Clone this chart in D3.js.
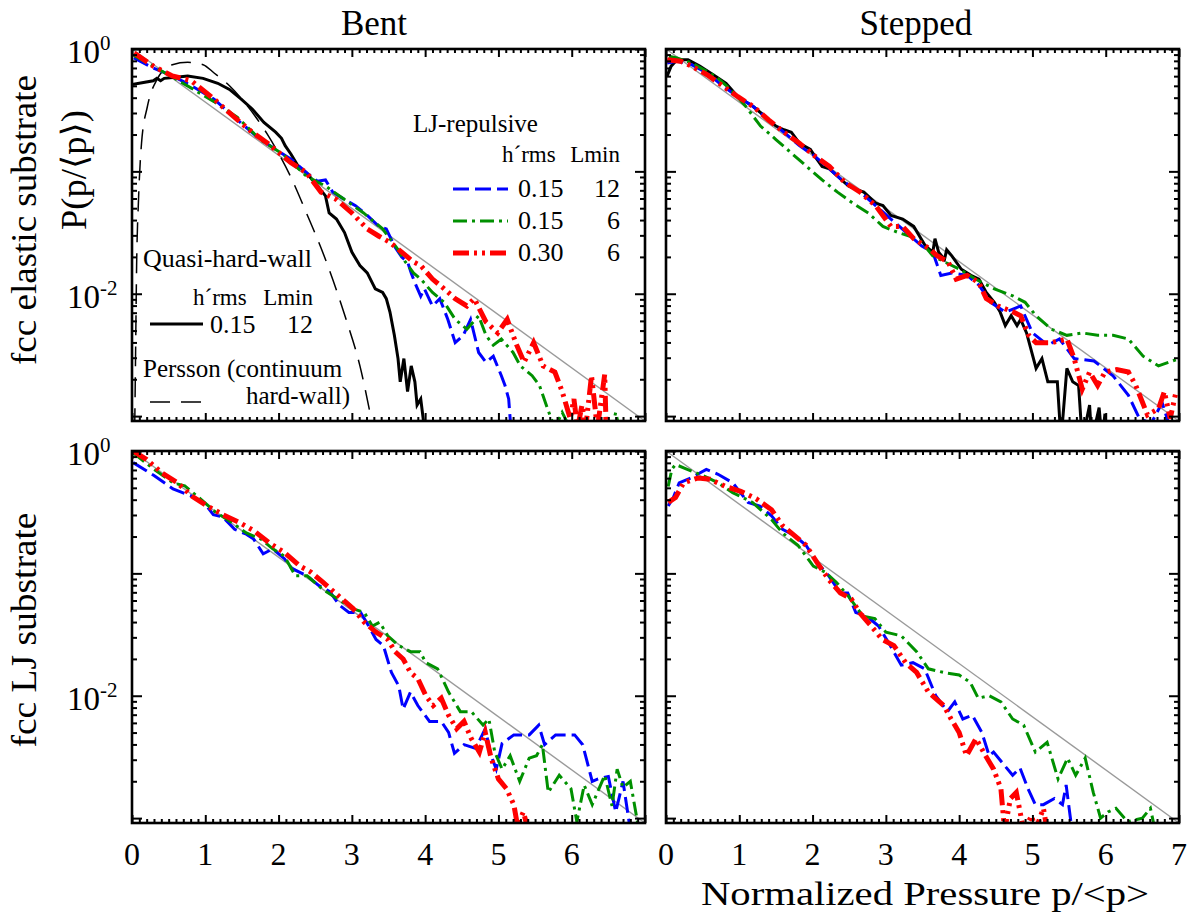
<!DOCTYPE html>
<html>
<head>
<meta charset="utf-8">
<script src="https://cdn.jsdelivr.net/npm/d3@7"></script>
<style>
body { margin: 0; background: #fff; }
svg text { font-family: "Liberation Serif", "Times New Roman", "DejaVu Serif", serif; fill: #000; }
</style>
</head>
<body>
<div class="chart"></div>
<script>
// ---- data (p = p/<p>, values are log10 P) ----

// reference line P = exp(-p)
var refP = [0, 7];
var refLog = [0, -3.04];

// Bent, fcc elastic substrate
var beBlackP = [0,0.29,0.34,0.39,0.44,0.60,0.76,0.97,1.17,1.33,1.49,1.64,1.80,1.96,2.04,2.09,2.17,2.27,2.38,2.53,2.64,2.69,2.79,2.90,3.00,3.11,3.21,3.32,3.42,3.47,3.52,3.58,3.63,3.66,3.71,3.76,3.81,3.86,3.89,3.94,3.99];
var beBlackLog = [-0.29,-0.26,-0.24,-0.26,-0.24,-0.23,-0.22,-0.24,-0.28,-0.33,-0.41,-0.49,-0.60,-0.68,-0.73,-0.79,-0.86,-0.96,-1.01,-1.12,-1.20,-1.34,-1.39,-1.50,-1.66,-1.77,-1.83,-1.96,-1.99,-2.04,-2.15,-2.34,-2.53,-2.72,-2.53,-2.80,-2.59,-2.72,-2.91,-2.86,-3.10];
var perssonP = [0.037,0.047,0.063,0.089,0.13,0.21,0.34,0.55,0.76,0.97,1.12,1.33,1.54,1.85,2.17,2.38,2.64,2.90,3.11,3.29];
var perssonLog = [-3.10,-2.59,-1.77,-1.23,-0.77,-0.47,-0.25,-0.128,-0.109,-0.128,-0.196,-0.30,-0.44,-0.70,-1.05,-1.34,-1.72,-2.17,-2.59,-3.10];
var beBlueP = [0.026,0.29,0.55,0.81,1.12,1.44,1.75,1.96,2.17,2.38,2.53,2.64,2.74,2.90,3.05,3.21,3.37,3.47,3.58,3.68,3.76,3.81,3.86,3.94,3.99,4.10,4.20,4.31,4.41,4.52,4.62,4.73,4.83,4.93,5.04,5.09,5.14,5.17];
var beBlueLog = [-0.073,-0.155,-0.22,-0.30,-0.41,-0.58,-0.74,-0.82,-0.90,-1.01,-1.08,-1.07,-1.17,-1.23,-1.28,-1.36,-1.45,-1.47,-1.61,-1.70,-1.74,-1.83,-1.91,-2.02,-1.96,-2.10,-2.04,-2.21,-2.40,-2.34,-2.21,-2.48,-2.56,-2.51,-2.67,-2.75,-2.86,-3.10];
var beGreenP = [0.03,0.29,0.55,0.81,1.12,1.44,1.75,2.06,2.38,2.64,2.90,3.16,3.42,3.63,3.73,3.84,3.94,4.10,4.26,4.41,4.57,4.73,4.83,4.93,5.04,5.20,5.30,5.46,5.56,5.67,5.77,5.87,5.98,6.55,6.60,6.65];
var beGreenLog = [-0.054,-0.14,-0.23,-0.32,-0.43,-0.56,-0.74,-0.86,-1.04,-1.12,-1.23,-1.34,-1.47,-1.64,-1.74,-1.83,-1.88,-1.99,-2.07,-2.21,-2.29,-2.18,-2.34,-2.42,-2.37,-2.48,-2.59,-2.67,-2.75,-2.94,-3.10,-2.97,-3.10,-3.10,-2.97,-3.10];
var beRedP = [0.03,0.29,0.55,0.81,1.12,1.44,1.64,1.85,2.01,2.17,2.38,2.58,2.79,3.00,3.21,3.37,3.52,3.68,3.84,3.94,4.10,4.26,4.41,4.57,4.67,4.83,4.99,5.12,5.25,5.35,5.48,5.61,5.77,5.87,5.98,6.03,6.08,6.14,6.19,6.27,6.35,6.45,6.47];
var beRedLog = [-0.033,-0.14,-0.22,-0.26,-0.41,-0.58,-0.68,-0.77,-0.85,-0.93,-1.01,-1.17,-1.23,-1.34,-1.47,-1.53,-1.58,-1.66,-1.74,-1.77,-1.88,-1.96,-2.04,-2.10,-2.04,-2.23,-2.32,-2.21,-2.42,-2.56,-2.40,-2.59,-2.64,-2.80,-3.02,-2.86,-3.10,-2.91,-3.10,-2.67,-3.10,-2.66,-3.10];

// Stepped, fcc elastic substrate
var seBlackP = [0.016,0.07,0.15,0.30,0.46,0.67,0.82,0.98,1.19,1.35,1.50,1.61,1.71,1.82,1.97,2.03,2.13,2.23,2.34,2.49,2.60,2.70,2.86,2.96,3.07,3.23,3.38,3.54,3.64,3.67,3.72,3.80,3.83,3.90,4.03,4.16,4.27,4.37,4.48,4.56,4.63,4.71,4.79,4.84,4.92,5.05,5.13,5.21,5.34,5.39,5.47,5.55,5.63,5.68,5.78,5.81,5.91,5.95,5.99];
var seBlackLog = [-0.22,-0.14,-0.087,-0.087,-0.14,-0.22,-0.28,-0.39,-0.47,-0.55,-0.63,-0.66,-0.68,-0.77,-0.82,-0.875,-0.96,-0.98,-1.04,-1.12,-1.15,-1.17,-1.26,-1.28,-1.36,-1.39,-1.45,-1.61,-1.66,-1.55,-1.66,-1.72,-1.64,-1.69,-1.80,-1.85,-1.88,-1.99,-2.07,-2.15,-2.26,-2.18,-2.26,-2.21,-2.32,-2.61,-2.53,-2.72,-2.72,-3.20,-2.61,-2.72,-2.75,-3.20,-2.91,-3.20,-2.93,-3.20,-2.98];
var seBlueP = [0.016,0.15,0.35,0.56,0.77,0.98,1.19,1.40,1.61,1.82,2.03,2.23,2.44,2.65,2.86,3.07,3.28,3.49,3.64,3.75,3.90,4.11,4.27,4.43,4.63,4.84,5.00,5.21,5.37,5.57,5.84,6.10,6.31,6.46,6.62,6.77,6.88];
var seBlueLog = [-0.114,-0.10,-0.128,-0.196,-0.30,-0.39,-0.47,-0.58,-0.68,-0.79,-0.875,-0.98,-1.09,-1.17,-1.28,-1.39,-1.50,-1.61,-1.66,-1.85,-1.83,-1.85,-1.93,-2.07,-2.15,-2.10,-2.32,-2.42,-2.37,-2.53,-2.55,-2.67,-2.83,-3.02,-3.06,-2.89,-3.10];
var seGreenP = [0.04,0.15,0.35,0.67,0.88,1.09,1.29,1.50,1.71,1.92,2.13,2.34,2.55,2.76,2.96,3.17,3.33,3.49,3.64,3.80,4.01,4.22,4.48,4.74,4.90,5.05,5.26,5.47,5.68,5.89,6.10,6.31,6.51,6.72,7.00];
var seGreenLog = [-0.06,-0.073,-0.114,-0.22,-0.33,-0.47,-0.63,-0.74,-0.85,-0.96,-1.07,-1.17,-1.26,-1.34,-1.45,-1.50,-1.53,-1.58,-1.69,-1.74,-1.80,-1.88,-1.96,-2.02,-2.07,-2.18,-2.29,-2.34,-2.32,-2.34,-2.34,-2.37,-2.51,-2.59,-2.53];
var seRedP = [0.016,0.20,0.35,0.56,0.77,0.98,1.19,1.40,1.61,1.82,2.03,2.23,2.44,2.65,2.86,3.07,3.23,3.38,3.59,3.70,3.85,3.96,4.11,4.27,4.37,4.53,4.74,4.84,4.95,5.05,5.26,5.47,5.57,5.68,5.78,5.89,5.99,6.15,6.31,6.41,6.57,6.72,6.80,6.88,6.96];
var seRedLog = [-0.087,-0.10,-0.14,-0.21,-0.30,-0.39,-0.47,-0.58,-0.68,-0.77,-0.875,-0.96,-1.09,-1.17,-1.28,-1.45,-1.45,-1.55,-1.63,-1.69,-1.74,-1.88,-1.85,-1.91,-2.04,-2.10,-2.15,-2.18,-2.34,-2.40,-2.40,-2.37,-2.53,-2.78,-2.64,-2.75,-2.64,-2.62,-2.64,-2.75,-2.99,-2.94,-2.80,-3.02,-2.80];

// Bent, fcc LJ substrate
var blBlueP = [0.016,0.30,0.56,0.82,0.98,1.11,1.24,1.40,1.56,1.66,1.79,1.92,2.08,2.18,2.39,2.55,2.70,2.83,2.96,3.12,3.23,3.33,3.43,3.54,3.64,3.70,3.80,3.90,4.06,4.22,4.32,4.40,4.53,4.69,4.82,4.90,4.97,5.05,5.21,5.42,5.55,5.63,5.78,6.04,6.15,6.28,6.36,6.50,6.60,6.70,6.80];
var blBlueLog = [-0.095,-0.20,-0.31,-0.37,-0.42,-0.52,-0.54,-0.64,-0.68,-0.72,-0.84,-0.80,-0.88,-0.96,-1.02,-1.10,-1.15,-1.26,-1.32,-1.32,-1.43,-1.54,-1.59,-1.81,-1.92,-2.11,-1.97,-2.08,-2.21,-2.21,-2.30,-2.47,-2.40,-2.43,-2.27,-2.49,-2.60,-2.39,-2.32,-2.32,-2.24,-2.40,-2.32,-2.32,-2.40,-2.70,-2.68,-2.66,-2.95,-2.70,-3.10];
var blGreenP = [0.016,0.30,0.56,0.72,0.93,1.14,1.35,1.56,1.76,1.92,2.08,2.23,2.39,2.60,2.81,3.02,3.17,3.28,3.38,3.49,3.64,3.80,3.93,4.01,4.17,4.32,4.48,4.63,4.79,4.87,4.95,5.05,5.16,5.29,5.42,5.52,5.60,5.68,5.83,5.99,6.07,6.17,6.28,6.45,6.55,6.62,6.70,6.80,6.90];
var blGreenLog = [-0.014,-0.15,-0.26,-0.285,-0.39,-0.50,-0.58,-0.67,-0.72,-0.80,-0.86,-1.02,-1.02,-1.13,-1.21,-1.29,-1.32,-1.43,-1.40,-1.51,-1.59,-1.64,-1.64,-1.73,-1.78,-1.97,-2.13,-2.13,-2.24,-2.19,-2.46,-2.60,-2.49,-2.70,-2.51,-2.49,-2.40,-2.79,-2.65,-2.76,-3.03,-2.73,-2.89,-2.65,-2.90,-2.60,-2.75,-2.70,-3.04];
var blRedP = [0.016,0.20,0.41,0.62,0.82,1.03,1.24,1.45,1.66,1.87,2.08,2.29,2.44,2.60,2.81,3.02,3.17,3.33,3.49,3.59,3.70,3.80,3.90,4.01,4.11,4.22,4.32,4.43,4.53,4.63,4.74,4.82,4.90,5.00,5.11,5.21,5.26,5.34,5.39,5.42];
var blRedLog = [0.0,-0.07,-0.18,-0.26,-0.37,-0.45,-0.52,-0.58,-0.65,-0.75,-0.83,-0.94,-0.99,-1.07,-1.18,-1.29,-1.40,-1.48,-1.54,-1.64,-1.70,-1.81,-1.86,-2.00,-2.08,-2.02,-2.16,-2.27,-2.21,-2.35,-2.46,-2.30,-2.51,-2.68,-2.76,-2.89,-3.06,-2.95,-3.06,-3.10];

// Stepped, fcc LJ substrate
var slBlueP = [0.03,0.10,0.18,0.34,0.55,0.71,0.91,1.12,1.28,1.44,1.59,1.75,1.91,2.06,2.22,2.38,2.48,2.59,2.74,2.90,3.06,3.21,3.37,3.53,3.68,3.84,3.94,4.05,4.18,4.31,4.41,4.47,4.62,4.73,4.83,4.94,5.04,5.15,5.30,5.41,5.46,5.54];
var slBlueLog = [-0.45,-0.38,-0.26,-0.22,-0.15,-0.19,-0.26,-0.42,-0.45,-0.53,-0.64,-0.69,-0.77,-0.91,-1.02,-1.16,-1.16,-1.32,-1.35,-1.43,-1.59,-1.75,-1.73,-1.78,-2.00,-2.13,-2.05,-2.19,-2.16,-2.30,-2.49,-2.46,-2.57,-2.65,-2.59,-2.76,-2.89,-2.89,-2.84,-2.89,-2.73,-3.10];
var slGreenP = [0.03,0.08,0.13,0.29,0.50,0.71,0.91,1.18,1.44,1.59,1.80,2.01,2.17,2.32,2.48,2.69,2.85,3.00,3.21,3.42,3.58,3.79,4.00,4.15,4.26,4.41,4.57,4.73,4.88,5.04,5.20,5.35,5.48,5.59,5.72,5.83,5.93,6.03,6.14,6.30,6.50,6.61,6.66];
var slGreenLog = [-0.29,-0.15,-0.11,-0.15,-0.20,-0.26,-0.34,-0.42,-0.56,-0.67,-0.77,-0.94,-0.99,-1.07,-1.18,-1.35,-1.37,-1.48,-1.51,-1.64,-1.78,-1.81,-1.83,-1.89,-2.02,-2.00,-2.05,-2.19,-2.24,-2.46,-2.38,-2.68,-2.51,-2.65,-2.51,-2.79,-3.00,-2.95,-2.92,-3.03,-3.00,-2.92,-3.06];
var slRedP = [0.03,0.13,0.24,0.44,0.60,0.81,1.02,1.23,1.44,1.59,1.75,1.91,2.06,2.22,2.38,2.53,2.64,2.80,2.95,3.11,3.27,3.42,3.58,3.79,3.89,4.00,4.10,4.23,4.36,4.47,4.57,4.62,4.70,4.78,4.88,4.99,5.04,5.15,5.20];
var slRedLog = [-0.42,-0.38,-0.26,-0.22,-0.23,-0.29,-0.33,-0.39,-0.48,-0.61,-0.69,-0.77,-0.91,-1.05,-1.16,-1.21,-1.32,-1.43,-1.54,-1.59,-1.73,-1.81,-1.97,-2.08,-2.19,-2.30,-2.49,-2.35,-2.49,-2.60,-2.76,-3.10,-2.84,-2.79,-3.10,-2.98,-3.10,-2.92,-3.10];

// axis ticks and labels
var xMajor = [0, 1, 2, 3, 4, 5, 6, 7];
var yMajor = [1, 0.1, 0.01, 0.001];
var yLabels = [{v: 1, sup: "0"}, {v: 0.01, sup: "-2"}];

// ---------------------------------------------------------------

var svgWidth = 1201;
var svgHeight = 913;
var width = 513;
var height = 372;

var styles = {
    grey:    {stroke: "#9a9a9a", w: 1.4, dash: null},
    persson: {stroke: "#000", w: 1.5, dash: "20,11"},
    black:   {stroke: "#000", w: 3, dash: null},
    blue:    {stroke: "#0000ff", w: 3, dash: "16,6"},
    green:   {stroke: "#009000", w: 3, dash: "14,5,3,5"},
    red:     {stroke: "#ff0000", w: 5, dash: "16,5,3,5,3,5"}
};

function series(p, v, style) {
    return {style: style, pts: p.map(function(d, i) { return {x: d, y: Math.pow(10, v[i])}; })};
}

var panels = [
    {x: 132, y: 49, title: "Bent", tx: 374, yLab: true, xLab: false,
     lines: [series(refP, refLog, "grey"), series(perssonP, perssonLog, "persson"), series(beBlackP, beBlackLog, "black"),
             series(beBlueP, beBlueLog, "blue"), series(beGreenP, beGreenLog, "green"), series(beRedP, beRedLog, "red")]},
    {x: 666, y: 49, title: "Stepped", tx: 916, yLab: false, xLab: false,
     lines: [series(refP, refLog, "grey"), series(seBlackP, seBlackLog, "black"),
             series(seBlueP, seBlueLog, "blue"), series(seGreenP, seGreenLog, "green"), series(seRedP, seRedLog, "red")]},
    {x: 132, y: 451, yLab: true, xLab: true, xLast: 6,
     lines: [series(refP, refLog, "grey"),
             series(blBlueP, blBlueLog, "blue"), series(blGreenP, blGreenLog, "green"), series(blRedP, blRedLog, "red")]},
    {x: 666, y: 451, yLab: false, xLab: true, xLast: 7,
     lines: [series(refP, refLog, "grey"),
             series(slBlueP, slBlueLog, "blue"), series(slGreenP, slGreenLog, "green"), series(slRedP, slRedLog, "red")]}
];

var svg = d3.select(".chart")
    .append("svg")
    .attr("width", svgWidth)
    .attr("height", svgHeight);

var xScale = d3.scaleLinear().domain([0, 7]).range([0, width]);
var yScale = d3.scaleLog().domain([9.12e-4, 1]).range([height, 0]);

var xMinor = xScale.ticks(70).filter(function(d) { return Math.abs(d - Math.round(d)) > 1e-6; });
var yMinor = yScale.ticks().filter(function(d) { return Math.abs(Math.log10(d) - Math.round(Math.log10(d))) > 1e-6; });

var line = d3.line()
    .x(function(d) { return xScale(d.x); })
    .y(function(d) { return yScale(d.y); });

function tickAxis(g, axis, vals, size) {
    g.call(axis.tickValues(vals).tickSize(size).tickFormat(""));
    g.select(".domain").remove();
    g.selectAll(".tick line").attr("stroke", "#000").attr("stroke-width", 2);
}

panels.forEach(function(pn, i) {
    var g = svg.append("g").attr("transform", "translate(" + pn.x + "," + pn.y + ")");

    svg.append("clipPath").attr("id", "clip" + i)
        .append("rect").attr("width", width).attr("height", height);

    var plot = g.append("g").attr("clip-path", "url(#clip" + i + ")");
    pn.lines.forEach(function(s) {
        var st = styles[s.style];
        plot.append("path")
            .datum(s.pts)
            .attr("fill", "none")
            .attr("stroke", st.stroke)
            .attr("stroke-width", st.w)
            .attr("stroke-dasharray", st.dash)
            .attr("d", s.style == "persson" ? line.curve(d3.curveMonotoneX)(s.pts) : line.curve(d3.curveLinear)(s.pts));
    });

    // inward ticks on all four sides
    tickAxis(g.append("g"), d3.axisLeft(yScale), yMajor, -10);
    tickAxis(g.append("g"), d3.axisLeft(yScale), yMinor, -5);
    tickAxis(g.append("g").attr("transform", "translate(" + width + ",0)"), d3.axisRight(yScale), yMajor, -10);
    tickAxis(g.append("g").attr("transform", "translate(" + width + ",0)"), d3.axisRight(yScale), yMinor, -5);
    tickAxis(g.append("g"), d3.axisTop(xScale), xMajor, -8);
    tickAxis(g.append("g"), d3.axisTop(xScale), xMinor, -4);
    tickAxis(g.append("g").attr("transform", "translate(0," + height + ")"), d3.axisBottom(xScale), xMajor, -8);
    tickAxis(g.append("g").attr("transform", "translate(0," + height + ")"), d3.axisBottom(xScale), xMinor, -4);

    g.append("rect")
        .attr("width", width).attr("height", height)
        .attr("fill", "none").attr("stroke", "#000").attr("stroke-width", 2.6);

    if (pn.yLab) {
        yLabels.forEach(function(l) {
            var t = g.append("text")
                .attr("x", -65).attr("y", yScale(l.v) + 14)
                .attr("font-size", 33)
                .text("10");
            t.append("tspan").attr("dy", -13).attr("font-size", 21).text(l.sup);
        });
    }

    if (pn.xLab) {
        xMajor.filter(function(d) { return d <= pn.xLast; }).forEach(function(d) {
            g.append("text")
                .attr("x", xScale(d)).attr("y", height + 42)
                .attr("text-anchor", "middle")
                .attr("font-size", 32)
                .text(d);
        });
    }

    if (pn.title) {
        svg.append("text")
            .attr("x", pn.tx).attr("y", 35)
            .attr("text-anchor", "middle")
            .attr("font-size", 35)
            .text(pn.title);
    }
});

// row labels
svg.append("text")
    .attr("transform", "translate(36,220) rotate(-90)")
    .attr("text-anchor", "middle").attr("font-size", 36)
    .attr("textLength", 290).attr("lengthAdjust", "spacingAndGlyphs")
    .text("fcc elastic substrate");
svg.append("text")
    .attr("transform", "translate(86,170) rotate(-90)")
    .attr("text-anchor", "middle").attr("font-size", 35)
    .attr("textLength", 120).attr("lengthAdjust", "spacingAndGlyphs")
    .text("P(p/\u27e8p\u27e9)");
svg.append("text")
    .attr("transform", "translate(36,630) rotate(-90)")
    .attr("text-anchor", "middle").attr("font-size", 36)
    .attr("textLength", 235).attr("lengthAdjust", "spacingAndGlyphs")
    .text("fcc LJ substrate");
svg.append("text")
    .attr("x", 701).attr("y", 905)
    .attr("font-size", 34)
    .attr("textLength", 448).attr("lengthAdjust", "spacingAndGlyphs")
    .text("Normalized Pressure  p/<p>");

// legends in the top-left panel
var leg = svg.append("g").attr("transform", "translate(132,49)");

function legText(x, y, txt, size, anchor) {
    leg.append("text").attr("x", x).attr("y", y)
        .attr("font-size", size).attr("text-anchor", anchor || "start").text(txt);
}
function legLine(x1, x2, y, style) {
    var st = styles[style];
    leg.append("line").attr("x1", x1).attr("x2", x2).attr("y1", y).attr("y2", y)
        .attr("stroke", st.stroke).attr("stroke-width", st.w)
        .attr("stroke-dasharray", st.dash);
}

var ljRows = [
    {style: "blue", h: "0.15", l: "12"},
    {style: "green", h: "0.15", l: "6"},
    {style: "red", h: "0.30", l: "6"}
];

legText(281, 83, "LJ-repulsive", 25);
legText(370, 113, "h\u00b4rms", 23);
legText(488, 113, "Lmin", 23, "end");
ljRows.forEach(function(r, i) {
    var y = 140 + i * 32;
    legLine(321, 376, y, r.style);
    legText(386, y + 8, r.h, 26);
    legText(488, y + 8, r.l, 26, "end");
});

legText(11, 218, "Quasi-hard-wall", 26);
legText(61, 256, "h\u00b4rms", 23);
legText(181, 256, "Lmin", 23, "end");
legLine(18, 71, 275, "black");
legText(78, 284, "0.15", 26);
legText(181, 284, "12", 26, "end");
legText(11, 328, "Persson (continuum", 25);
legLine(18, 71, 353, "persson");
legText(218, 355, "hard-wall)", 25, "end");
</script>
</body>
</html>
